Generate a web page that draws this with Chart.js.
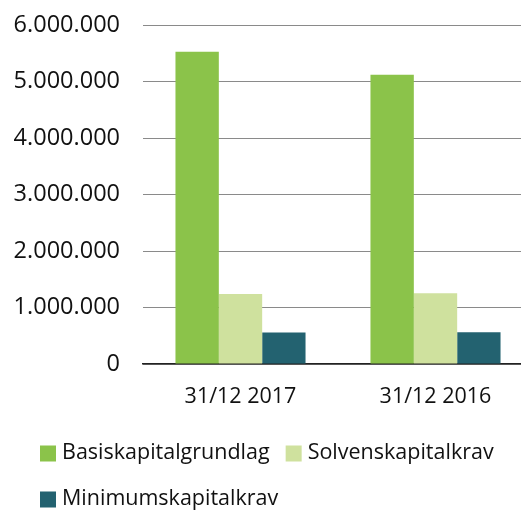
<!DOCTYPE html>
<html>
<head>
<meta charset="utf-8">
<script src="https://cdn.jsdelivr.net/npm/chart.js@4.4.1/dist/chart.umd.min.js"></script>
<style>
html,body{margin:0;padding:0;background:#fff;overflow:hidden;}
#wrap{width:521px;height:512px;overflow:hidden;}
</style>
</head>
<body>
<div id="wrap"><canvas id="c" width="533" height="512"></canvas></div>
<script>
const categories = ['31/12 2017', '31/12 2016'];
const basiskapitalgrundlag = [5527000, 5120000];
const solvenskapitalkrav = [1241000, 1253000];
const minimumskapitalkrav = [557000, 560000];
const seriesNames = ['Basiskapitalgrundlag', 'Solvenskapitalkrav', 'Minimumskapitalkrav'];
const yMax = 6000000;
const yStep = 1000000;

function fmt(v){
  return String(Math.round(v)).replace(/\B(?=(\d{3})+(?!\d))/g, '.');
}

// Legend drawn on the chart canvas from the dataset labels and colours
const bottomLegend = {
  id: 'bottomLegend',
  afterDraw(chart){
    const ctx = chart.ctx;
    const o = {left: 40, firstBaseline: 459, rowGap: 46, box: 16, boxToText: 6, itemGap: 16, maxRight: 515, size: 21.5};
    ctx.save();
    ctx.font = o.size + 'px "Open Sans"';
    ctx.textAlign = 'left';
    ctx.textBaseline = 'alphabetic';
    let x = o.left, base = o.firstBaseline;
    chart.data.datasets.forEach((ds, i) => {
      const w = ctx.measureText(ds.label).width;
      const itemW = o.box + o.boxToText + w;
      if (i > 0 && x + itemW > o.maxRight) { x = o.left; base += o.rowGap; }
      ctx.fillStyle = ds.backgroundColor;
      ctx.fillRect(x, base - 13.5, o.box, o.box);
      ctx.fillStyle = '#111';
      ctx.fillText(ds.label, x + o.box + o.boxToText, base);
      x += itemW + o.itemGap;
    });
    ctx.restore();
  }
};

new Chart(document.getElementById('c'), {
  type: 'bar',
  data: {
    labels: categories,
    datasets: [
      {label: seriesNames[0], data: basiskapitalgrundlag, backgroundColor: '#8bc34a'},
      {label: seriesNames[1], data: solvenskapitalkrav, backgroundColor: '#cfe19e'},
      {label: seriesNames[2], data: minimumskapitalkrav, backgroundColor: '#236270'}
    ]
  },
  plugins: [bottomLegend],
  options: {
    responsive: false,
    animation: false,
    devicePixelRatio: 1,
    layout: {padding: {left: 0, right: 0, top: 0, bottom: 93}},
    datasets: {bar: {categoryPercentage: 0.667, barPercentage: 1.0}},
    scales: {
      x: {
        afterFit: (s) => { s.height = 55; },
        grid: {display: false, drawTicks: false},
        border: {display: true, color: '#222', width: 1.5},
        ticks: {color: '#111', font: {family: 'Open Sans', size: 21.5}, padding: 20}
      },
      y: {
        min: 0, max: yMax,
        afterFit: (s) => { s.width = 143; s.paddingTop = 25; s.paddingBottom = 0; },
        grid: {color: '#8a8a8a', lineWidth: 1, drawTicks: false},
        border: {display: false},
        ticks: {
          stepSize: yStep,
          color: '#111',
          font: {family: 'Open Sans', size: 23.5},
          padding: 23,
          callback: (v) => fmt(v)
        }
      }
    },
    plugins: {
      tooltip: {enabled: false},
      legend: {display: false}
    }
  }
});
</script>
</body>
</html>
